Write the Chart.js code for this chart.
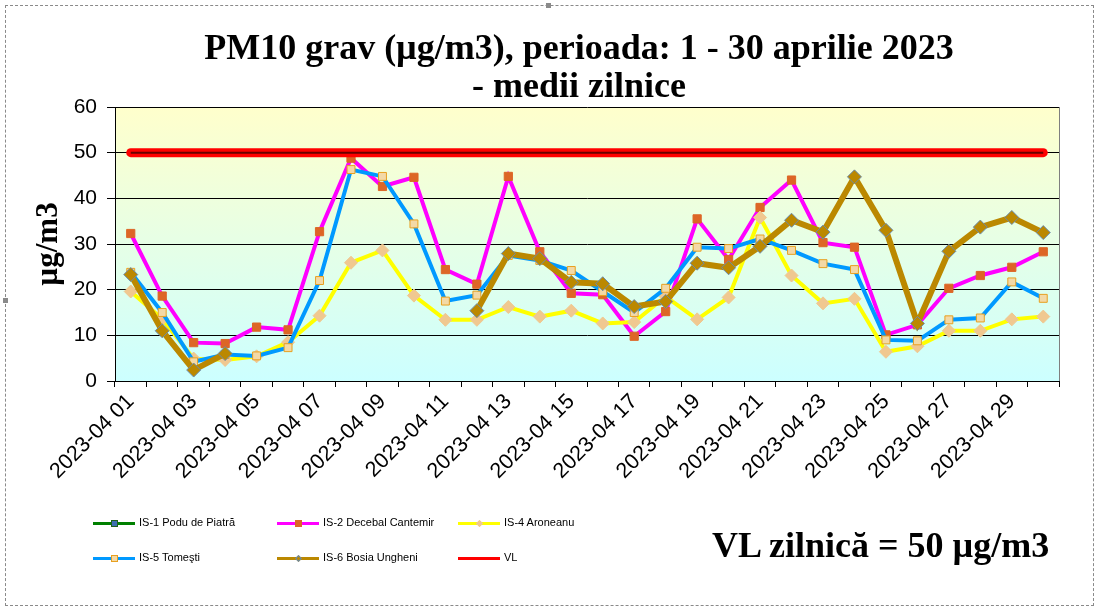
<!DOCTYPE html>
<html>
<head>
<meta charset="utf-8">
<title>PM10 grav aprilie 2023</title>
<script src="https://cdn.jsdelivr.net/npm/chart.js@4.4.0/dist/chart.umd.min.js"></script>
<style>
  html, body { margin: 0; padding: 0; background: #fff; }
  #wrap { position: relative; width: 1099px; height: 611px; overflow: hidden; }
  #chart { position: absolute; left: 0; top: 0; }
  .frame { position: absolute; left: 5px; top: 5px; width: 1087px; height: 599px; border: 1px dashed #8a8a8a; }
  .handle { position: absolute; width: 5px; height: 5px; background: #8a8a8a; }
  .title { position: absolute; left: 79px; width: 1000px; top: 28px; text-align: center;
           font: bold 36px 'Liberation Serif', 'Times New Roman', serif; line-height: 38px; color: #000; }
  .vl-note { position: absolute; left: 712px; top: 527px; white-space: nowrap; color: #000;
             font: bold 36px 'Liberation Serif', 'Times New Roman', serif; line-height: 36px; }
  .leg { position: absolute; height: 20px; font: 11px 'Liberation Sans', Arial, sans-serif; white-space: nowrap; color: #000; }
  .leg .line { position: absolute; left: 0; top: 9px; width: 42px; height: 3px; }
  .leg .mk { position: absolute; box-sizing: border-box; }
  .leg .txt { position: absolute; left: 46px; top: 3px; }
</style>
</head>
<body>
<div id="wrap">
  <canvas id="chart" width="1099" height="611"></canvas>
  <div class="frame"></div>
  <div class="handle" style="left:546px;top:3px"></div>
  <div class="handle" style="left:3px;top:298px"></div>
  <div class="title">PM10 grav (µg/m3), perioada: 1 - 30 aprilie 2023<br>- medii zilnice</div>
  <div class="vl-note">VL zilnică = 50 µg/m3</div>
  <div id="legend"></div>
</div>
<script>
// zilele din aprilie 2023
const days = ['2023-04 01', '2023-04 02', '2023-04 03', '2023-04 04', '2023-04 05', '2023-04 06',
  '2023-04 07', '2023-04 08', '2023-04 09', '2023-04 10', '2023-04 11', '2023-04 12',
  '2023-04 13', '2023-04 14', '2023-04 15', '2023-04 16', '2023-04 17', '2023-04 18',
  '2023-04 19', '2023-04 20', '2023-04 21', '2023-04 22', '2023-04 23', '2023-04 24',
  '2023-04 25', '2023-04 26', '2023-04 27', '2023-04 28', '2023-04 29', '2023-04 30'];

const yTicks = [0, 10, 20, 30, 40, 50, 60];

// IS-1 nu are date in aceasta perioada
const is1 = [null, null, null, null, null, null, null, null, null, null,
  null, null, null, null, null, null, null, null, null, null,
  null, null, null, null, null, null, null, null, null, null];
const is2 = [32.3, 18.6, 8.4, 8.2, 11.8, 11.2, 32.7, 48.8, 42.6, 44.6,
  24.4, 21.2, 44.8, 28.3, 19.2, 18.9, 9.8, 15.2, 35.5, 26.6,
  38.0, 44.0, 30.3, 29.3, 10.1, 12.3, 20.3, 23.1, 24.9, 28.3];
const is4 = [19.6, 13.6, 4.9, 4.6, 5.4, 8.5, 14.3, 25.9, 28.6, 18.7,
  13.4, 13.4, 16.2, 14.1, 15.4, 12.6, 12.9, 18.5, 13.5, 18.3,
  35.8, 23.1, 17.0, 18.0, 6.4, 7.6, 11.0, 11.0, 13.5, 14.1];
const is5 = [23.8, 15.0, 4.2, 5.8, 5.5, 7.3, 22.0, 46.3, 44.8, 34.4,
  17.5, 18.8, 27.5, 26.4, 24.2, 19.6, 15.0, 20.3, 29.3, 29.0,
  31.1, 28.6, 25.7, 24.4, 9.0, 8.8, 13.4, 13.8, 21.7, 18.1];
const is6 = [23.3, 11.0, 2.4, 6.0, null, null, null, null, null, null,
  null, 15.4, 27.9, 26.8, 21.6, 21.3, 16.3, 17.4, 25.8, 24.8,
  29.5, 35.2, 32.6, 44.7, 33.0, 12.6, 28.4, 33.7, 35.8, 32.5];
const vl = [50, 50, 50, 50, 50, 50, 50, 50, 50, 50,
  50, 50, 50, 50, 50, 50, 50, 50, 50, 50,
  50, 50, 50, 50, 50, 50, 50, 50, 50, 50];

const sans = "'Liberation Sans', Arial, sans-serif";
const serif = "'Liberation Serif', 'Times New Roman', serif";

// fundal zona grafic + linia din mijlocul VL
const plotBackground = {
  id: 'plotBackground',
  beforeDraw(chart) {
    const { ctx, chartArea: a } = chart;
    const g = ctx.createLinearGradient(0, a.top, 0, a.bottom);
    g.addColorStop(0, '#FFFFCC');
    g.addColorStop(0.5, '#E6FFE6');
    g.addColorStop(1, '#CCFFFF');
    ctx.save();
    ctx.fillStyle = g;
    ctx.fillRect(a.left, a.top, a.right - a.left, a.bottom - a.top);
    ctx.strokeStyle = '#7f7f7f';
    ctx.lineWidth = 1;
    ctx.beginPath();
    ctx.moveTo(a.right + 0.5, a.top);
    ctx.lineTo(a.right + 0.5, a.bottom);
    ctx.stroke();
    ctx.restore();
  },
  afterDatasetsDraw(chart) {
    const meta = chart.getDatasetMeta(5);
    const pts = meta.data;
    if (!pts.length) return;
    const ctx = chart.ctx;
    ctx.save();
    ctx.strokeStyle = '#6a0000';
    ctx.lineWidth = 2;
    ctx.beginPath();
    ctx.moveTo(pts[0].x, pts[0].y);
    ctx.lineTo(pts[pts.length - 1].x, pts[pts.length - 1].y);
    ctx.stroke();
    ctx.restore();
  }
};

const series = [
  { label: 'IS-1 Podu de Piatră', data: is1, borderColor: '#008000', borderWidth: 4,
    pointStyle: 'rect', pointRadius: 5, pointBackgroundColor: '#3d6fb0', pointBorderColor: '#1e5e1e', order: 5 },
  { label: 'IS-2 Decebal Cantemir', data: is2, borderColor: '#FF00FF', borderWidth: 4,
    pointStyle: 'rect', pointRadius: 5.8, pointBackgroundColor: '#DD6626', pointBorderColor: '#DD6626', order: 4 },
  { label: 'IS-4 Aroneanu', data: is4, borderColor: '#FFFF00', borderWidth: 4,
    pointStyle: 'rectRot', pointRadius: 6.5, pointBackgroundColor: '#F0C890', pointBorderColor: '#F0C890', order: 3 },
  { label: 'IS-5 Tomeşti', data: is5, borderColor: '#0099FF', borderWidth: 4,
    pointStyle: 'rect', pointRadius: 5.6, pointBackgroundColor: '#F3D9A6', pointBorderColor: '#E8A020', order: 2 },
  { label: 'IS-6 Bosia Ungheni', data: is6, borderColor: '#BB8800', borderWidth: 6,
    pointStyle: 'rectRot', pointRadius: 7, pointBackgroundColor: '#BB8800', pointBorderColor: '#6A8CAF', order: 1 },
  { label: 'VL', data: vl, borderColor: '#FF0000', borderWidth: 9, borderCapStyle: 'round',
    pointRadius: 0, order: 0 }
];

new Chart(document.getElementById('chart').getContext('2d'), {
  type: 'line',
  data: {
    labels: days,
    datasets: series.map(s => Object.assign({ tension: 0, spanGaps: false, pointBorderWidth: 1,
      pointHoverRadius: 0, fill: false }, s))
  },
  options: {
    responsive: false,
    animation: false,
    layout: { padding: { left: 0, right: 40, top: 107, bottom: 130 } },
    plugins: { legend: { display: false }, tooltip: { enabled: false } },
    scales: {
      x: {
        offset: true,
        grid: { offset: true, drawOnChartArea: false, color: '#000', tickLength: 6 },
        border: { color: '#000' },
        ticks: {
          autoSkip: false, maxRotation: 45, minRotation: 45, padding: 2, color: '#000',
          font: { family: sans, size: 21.5 },
          callback(v, i) { return i % 2 === 0 ? this.getLabelForValue(v) : ''; }
        },
        afterFit(s) { s.height = 100; }
      },
      y: {
        min: 0, max: 60,
        afterBuildTicks(s) { s.ticks = yTicks.map(v => ({ value: v })); },
        grid: { color: '#000', tickLength: 8 },
        border: { color: '#000' },
        ticks: { color: '#000', padding: 10, font: { family: sans, size: 21 } },
        title: { display: true, text: 'µg/m3', color: '#000', padding: { top: 30, bottom: 0 },
          font: { family: serif, size: 31, weight: 'bold' } },
        afterFit(s) { s.width = 115; }
      }
    }
  },
  plugins: [plotBackground]
});

// legenda pe 3 coloane
const legendPos = [[93, 513], [277, 513], [458, 513], [93, 548], [277, 548], [458, 548]];
const legend = document.getElementById('legend');
series.forEach((s, k) => {
  const item = document.createElement('div');
  item.className = 'leg';
  item.style.left = legendPos[k][0] + 'px';
  item.style.top = legendPos[k][1] + 'px';
  let html = '<div class="line" style="background:' + s.borderColor + '"></div>';
  if (s.pointRadius) {
    const diamond = s.pointStyle === 'rectRot';
    const sz = diamond ? 5 : 7;
    html += '<div class="mk" style="left:' + (21 - sz / 2) + 'px;top:' + (10.5 - sz / 2) + 'px;width:' + sz +
      'px;height:' + sz + 'px;background:' + s.pointBackgroundColor + ';border:1px solid ' + s.pointBorderColor +
      (diamond ? ';transform:rotate(45deg)' : '') + '"></div>';
  }
  html += '<div class="txt">' + s.label + '</div>';
  item.innerHTML = html;
  legend.appendChild(item);
});
</script>
</body>
</html>
